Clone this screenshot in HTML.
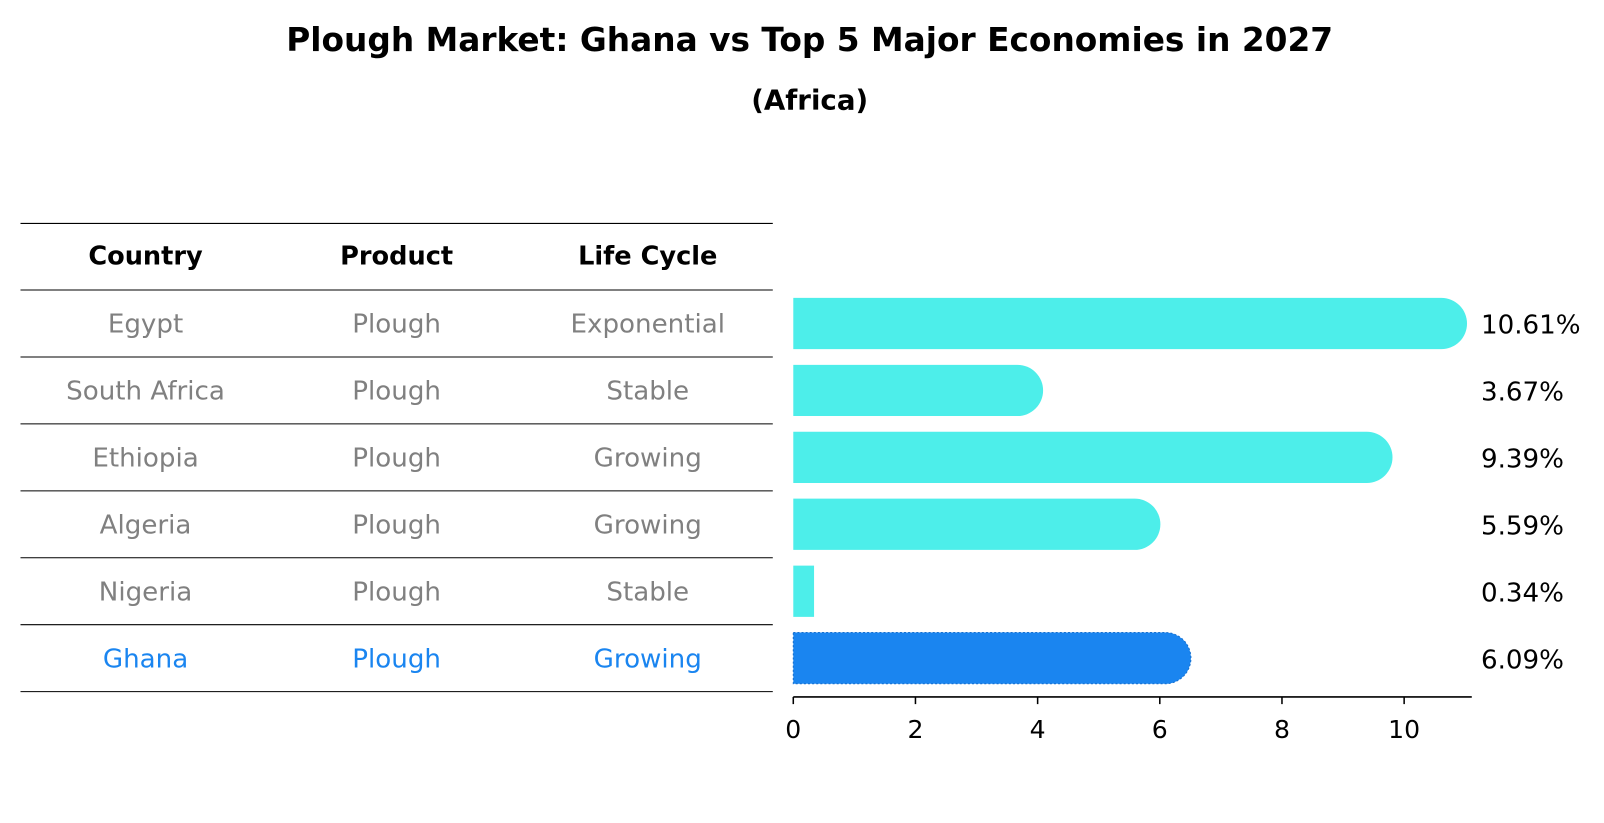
<!DOCTYPE html>
<html><head><meta charset="utf-8"><style>
body{margin:0;background:#fff;}
svg{display:block;font-family:"DejaVu Sans","Liberation Sans",sans-serif;}
</style></head><body>
<svg id="c" width="1604" height="823" viewBox="0 0 1565 803" preserveAspectRatio="none" xmlns="http://www.w3.org/2000/svg">
<text x="790" y="50" text-anchor="middle" font-size="32" font-weight="bold">Plough Market: Ghana vs Top 5 Major Economies in 2027</text>
<text x="790" y="107" text-anchor="middle" font-size="27" font-weight="bold">(Africa)</text>
<g id="table"></g>
<g id="bars"></g>
<g id="axis"></g>
</svg>
<script>
const countries=["Egypt","South Africa","Ethiopia","Algeria","Nigeria","Ghana"];
const products=["Plough","Plough","Plough","Plough","Plough","Plough"];
const lifeCycles=["Exponential","Stable","Growing","Growing","Stable","Growing"];
const values=[10.61,3.67,9.39,5.59,0.34,6.09];
const labels=["10.61%","3.67%","9.39%","5.59%","0.34%","6.09%"];
const ticks=[0,2,4,6,8,10];
const highlight="Ghana";

const NS="http://www.w3.org/2000/svg";
function mk(tag,attrs,parent){const e=document.createElementNS(NS,tag);for(const k in attrs)e.setAttribute(k,attrs[k]);parent.appendChild(e);return e;}
const x0=774,scale=59.6;
const xs=v=>x0+v*scale;
const rowTop=283,rowH=65.3;
const ys=i=>rowTop+rowH*i+rowH/2;

const table=document.getElementById('table');
const colX=[142,387,632];
const heads=["Country","Product","Life Cycle"];
heads.forEach((h,j)=>{const t=mk('text',{x:colX[j],y:258,'text-anchor':'middle','font-size':'25','font-weight':'bold'},table);t.textContent=h;

});
for(let i=0;i<=countries.length+1;i++){const y=i==0?218:rowTop+rowH*(i-1);
const l=mk('line',{x1:20,x2:754,y1:y,y2:y,stroke:'#000','stroke-width':1},table);

}
countries.forEach((c,i)=>{const col=c===highlight?'#1a85f0':'#808080';
[c,products[i],lifeCycles[i]].forEach((v,j)=>{const t=mk('text',{x:colX[j],y:ys(i)+9,'text-anchor':'middle','font-size':'25.5',fill:col},table);t.textContent=v;

});});

const bars=document.getElementById('bars');
const bh=50,r=25;
values.forEach((v,i)=>{const y=ys(i)-bh/2;const x1=xs(v);const col=countries[i]===highlight?'#1a85f0':'#4deeea';
let d;
if(v<1){d=`M${x0},${y}H${x1}V${y+bh}H${x0}Z`;}
else{d=`M${x0},${y}H${x1}A${r},${r} 0 0 1 ${x1},${y+bh}H${x0}Z`;}
const p=mk('path',{d:d,fill:col},bars);
if(countries[i]===highlight){p.setAttribute('stroke','#1670d0');p.setAttribute('stroke-dasharray','2,2');p.setAttribute('stroke-width','1');}


const t=mk('text',{x:1445,y:ys(i)+10,'font-size':'25.5',fill:'#000'},bars);t.textContent=labels[i];

});

const axis=document.getElementById('axis');
const al=mk('line',{x1:x0,x2:1436,y1:680,y2:680,stroke:'#000','stroke-width':1.5},axis);


ticks.forEach(t=>{const l=mk('line',{x1:xs(t),x2:xs(t),y1:680,y2:687,stroke:'#000','stroke-width':1.5},axis);


const tx=mk('text',{x:xs(t),y:720,'text-anchor':'middle','font-size':'24.5'},axis);tx.textContent=t;

});
</script>
</body></html>
